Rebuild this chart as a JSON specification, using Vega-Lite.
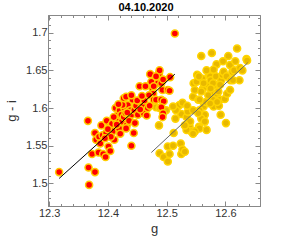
{
 "$schema": "https://vega.github.io/schema/vega-lite/v6.json",
 "width": 212, "height": 191,
 "autosize": "none",
 "padding": {"left": 48, "top": 15, "right": 28, "bottom": 34},
 "title": {"text": "04.10.2020", "fontSize": 11, "fontWeight": "bold", "font": "Liberation Sans", "color": "#000", "offset": -1, "dx": -8},
 "config": {
  "view": {"stroke": "#888", "strokeWidth": 1},
  "font": "Liberation Sans",
  "axis": {"grid": false, "domainColor": "#888", "tickColor": "#888", "labelColor": "#333", "titleColor": "#333", "labelFontSize": 11, "titleFontSize": 13, "titleFontWeight": "normal", "labelFont": "Liberation Sans", "titleFont": "Liberation Sans"}
 },
 "datasets": {
  "red": [
   {"g":12.317,"gi":1.515},{"g":12.368,"gi":1.498},{"g":12.367,"gi":1.521},{"g":12.378,"gi":1.515},{"g":12.366,"gi":1.583},
   {"g":12.373,"gi":1.539},{"g":12.378,"gi":1.567},{"g":12.380,"gi":1.558},{"g":12.384,"gi":1.541},{"g":12.392,"gi":1.539},
   {"g":12.396,"gi":1.535},{"g":12.389,"gi":1.577},{"g":12.385,"gi":1.562},{"g":12.391,"gi":1.564},{"g":12.397,"gi":1.567},
   {"g":12.398,"gi":1.583},{"g":12.401,"gi":1.549},{"g":12.404,"gi":1.543},{"g":12.403,"gi":1.575},{"g":12.407,"gi":1.579},
   {"g":12.408,"gi":1.569},{"g":12.411,"gi":1.558},{"g":12.405,"gi":1.562},{"g":12.414,"gi":1.584},{"g":12.417,"gi":1.591},
   {"g":12.413,"gi":1.600},{"g":12.420,"gi":1.597},{"g":12.423,"gi":1.591},{"g":12.419,"gi":1.573},{"g":12.421,"gi":1.566},
   {"g":12.424,"gi":1.582},{"g":12.427,"gi":1.588},{"g":12.428,"gi":1.600},{"g":12.427,"gi":1.613},{"g":12.431,"gi":1.615},
   {"g":12.430,"gi":1.593},{"g":12.434,"gi":1.604},{"g":12.436,"gi":1.585},{"g":12.438,"gi":1.597},{"g":12.440,"gi":1.591},
   {"g":12.432,"gi":1.577},{"g":12.431,"gi":1.573},{"g":12.436,"gi":1.583},{"g":12.440,"gi":1.550},{"g":12.442,"gi":1.611},
   {"g":12.445,"gi":1.597},{"g":12.444,"gi":1.567},{"g":12.448,"gi":1.603},{"g":12.451,"gi":1.591},{"g":12.454,"gi":1.629},
   {"g":12.457,"gi":1.606},{"g":12.460,"gi":1.603},{"g":12.461,"gi":1.593},{"g":12.464,"gi":1.629},{"g":12.468,"gi":1.600},
   {"g":12.471,"gi":1.603},{"g":12.472,"gi":1.645},{"g":12.474,"gi":1.635},{"g":12.476,"gi":1.626},{"g":12.477,"gi":1.619},
   {"g":12.470,"gi":1.617},{"g":12.478,"gi":1.611},{"g":12.482,"gi":1.611},{"g":12.485,"gi":1.633},{"g":12.487,"gi":1.646},
   {"g":12.488,"gi":1.650},{"g":12.491,"gi":1.633},{"g":12.494,"gi":1.638},{"g":12.493,"gi":1.624},{"g":12.491,"gi":1.611},
   {"g":12.495,"gi":1.609},{"g":12.491,"gi":1.601},{"g":12.494,"gi":1.593},{"g":12.493,"gi":1.588},{"g":12.502,"gi":1.624},
   {"g":12.505,"gi":1.623},{"g":12.506,"gi":1.641},{"g":12.514,"gi":1.699},{"g":12.478,"gi":1.629},{"g":12.482,"gi":1.642},
   {"g":12.410,"gi":1.588},{"g":12.415,"gi":1.578},{"g":12.425,"gi":1.604},{"g":12.433,"gi":1.594},{"g":12.446,"gi":1.580},
   {"g":12.450,"gi":1.610},{"g":12.455,"gi":1.598},{"g":12.462,"gi":1.610},{"g":12.400,"gi":1.572},{"g":12.387,"gi":1.553},
   {"g":12.395,"gi":1.560},{"g":12.418,"gi":1.605},{"g":12.440,"gi":1.617},{"g":12.458,"gi":1.616},{"g":12.466,"gi":1.590}
  ],
  "yellow": [
   {"g":12.487,"gi":1.577},{"g":12.488,"gi":1.540},{"g":12.495,"gi":1.535},{"g":12.502,"gi":1.529},{"g":12.505,"gi":1.539},
   {"g":12.502,"gi":1.549},{"g":12.511,"gi":1.550},{"g":12.512,"gi":1.567},{"g":12.515,"gi":1.586},{"g":12.519,"gi":1.602},
   {"g":12.522,"gi":1.604},{"g":12.525,"gi":1.592},{"g":12.527,"gi":1.607},{"g":12.524,"gi":1.553},{"g":12.525,"gi":1.539},
   {"g":12.527,"gi":1.545},{"g":12.531,"gi":1.542},{"g":12.534,"gi":1.588},{"g":12.536,"gi":1.595},{"g":12.539,"gi":1.576},
   {"g":12.542,"gi":1.569},{"g":12.545,"gi":1.615},{"g":12.546,"gi":1.633},{"g":12.548,"gi":1.624},{"g":12.551,"gi":1.635},
   {"g":12.552,"gi":1.644},{"g":12.554,"gi":1.611},{"g":12.555,"gi":1.575},{"g":12.556,"gi":1.573},{"g":12.559,"gi":1.669},
   {"g":12.561,"gi":1.639},{"g":12.562,"gi":1.626},{"g":12.563,"gi":1.602},{"g":12.565,"gi":1.591},{"g":12.567,"gi":1.608},
   {"g":12.568,"gi":1.571},{"g":12.571,"gi":1.631},{"g":12.572,"gi":1.644},{"g":12.574,"gi":1.642},{"g":12.575,"gi":1.637},
   {"g":12.577,"gi":1.673},{"g":12.578,"gi":1.619},{"g":12.579,"gi":1.611},{"g":12.580,"gi":1.602},{"g":12.582,"gi":1.631},
   {"g":12.584,"gi":1.642},{"g":12.585,"gi":1.658},{"g":12.586,"gi":1.619},{"g":12.588,"gi":1.622},{"g":12.589,"gi":1.603},
   {"g":12.591,"gi":1.611},{"g":12.592,"gi":1.591},{"g":12.593,"gi":1.637},{"g":12.595,"gi":1.644},{"g":12.597,"gi":1.648},
   {"g":12.599,"gi":1.612},{"g":12.601,"gi":1.580},{"g":12.602,"gi":1.642},{"g":12.603,"gi":1.619},{"g":12.605,"gi":1.669},
   {"g":12.608,"gi":1.657},{"g":12.609,"gi":1.637},{"g":12.612,"gi":1.648},{"g":12.615,"gi":1.650},{"g":12.617,"gi":1.662},
   {"g":12.620,"gi":1.679},{"g":12.624,"gi":1.637},{"g":12.625,"gi":1.653},{"g":12.629,"gi":1.650},{"g":12.636,"gi":1.665},
   {"g":12.637,"gi":1.663},{"g":12.556,"gi":1.597},{"g":12.559,"gi":1.586},{"g":12.565,"gi":1.582},{"g":12.540,"gi":1.582},
   {"g":12.548,"gi":1.569},{"g":12.555,"gi":1.642},{"g":12.568,"gi":1.650},{"g":12.579,"gi":1.633},{"g":12.591,"gi":1.631},
   {"g":12.586,"gi":1.608},{"g":12.534,"gi":1.571},{"g":12.531,"gi":1.577},{"g":12.516,"gi":1.597},{"g":12.545,"gi":1.597},
   {"g":12.545,"gi":1.566},{"g":12.535,"gi":1.603},{"g":12.556,"gi":1.611},{"g":12.580,"gi":1.651},{"g":12.596,"gi":1.662},
   {"g":12.613,"gi":1.637},{"g":12.608,"gi":1.624},{"g":12.554,"gi":1.593},{"g":12.575,"gi":1.626},{"g":12.574,"gi":1.606},
   {"g":12.482,"gi":1.601},{"g":12.488,"gi":1.600},{"g":12.499,"gi":1.597},{"g":12.511,"gi":1.602},{"g":12.559,"gi":1.622},
   {"g":12.571,"gi":1.617},{"g":12.563,"gi":1.633}
  ],
  "fits": [
   {"set":"red","g":12.317,"gi":1.5066},{"set":"red","g":12.514,"gi":1.645},
   {"set":"yellow","g":12.474,"gi":1.541},{"set":"yellow","g":12.638,"gi":1.660}
  ]
 },
 "layer": [
  {
   "data": {"name": "yellow"},
   "mark": {"type": "point", "shape": "circle", "filled": true, "fill": "#e8b800", "stroke": "#ffd400", "strokeWidth": 1.5, "size": 50, "opacity": 1},
   "encoding": {
    "x": {"field": "g", "type": "quantitative", "title": "g",
     "scale": {"domain": [12.298, 12.659], "nice": false, "zero": false},
     "axis": {"orient": "bottom", "values": [12.3,12.32,12.34,12.36,12.38,12.4,12.42,12.44,12.46,12.48,12.5,12.52,12.54,12.56,12.58,12.6,12.62,12.64],
      "labelExpr": "abs(datum.value*10 - round(datum.value*10)) < 0.001 ? format(datum.value, '.1f') : ''",
      "tickSize": {"condition": {"test": "abs(datum.value*10 - round(datum.value*10)) < 0.001", "value": -5}, "value": -2.5},
      "labelPadding": 6, "titlePadding": 2, "labelFlush": false, "labelOverlap": false}},
    "y": {"field": "gi", "type": "quantitative", "title": "g - i",
     "scale": {"domain": [1.47, 1.7235], "nice": false, "zero": false},
     "axis": {"orient": "left", "values": [1.47,1.48,1.49,1.5,1.51,1.52,1.53,1.54,1.55,1.56,1.57,1.58,1.59,1.6,1.61,1.62,1.63,1.64,1.65,1.66,1.67,1.68,1.69,1.7,1.71,1.72],
      "labelExpr": "abs(datum.value*20 - round(datum.value*20)) < 0.001 ? format(datum.value, '~g') : ''",
      "tickSize": {"condition": {"test": "abs(datum.value*20 - round(datum.value*20)) < 0.001", "value": -5}, "value": -2.5},
      "labelPadding": 6, "titlePadding": 7, "labelFlush": false, "labelOverlap": false}}
   }
  },
  {
   "data": {"name": "red"},
   "mark": {"type": "point", "shape": "circle", "filled": true, "fill": "#ff0000", "stroke": "#ffcc00", "strokeWidth": 1.5, "size": 50, "opacity": 1},
   "encoding": {
    "x": {"field": "g", "type": "quantitative", "axis": null},
    "y": {"field": "gi", "type": "quantitative", "axis": null}
   }
  },
  {
   "data": {"name": "fits"},
   "mark": {"type": "line", "strokeWidth": 1},
   "encoding": {
    "x": {"field": "g", "type": "quantitative", "title": null,
     "axis": {"orient": "top", "values": [12.3,12.32,12.34,12.36,12.38,12.4,12.42,12.44,12.46,12.48,12.5,12.52,12.54,12.56,12.58,12.6,12.62,12.64],
      "labels": false,
      "tickSize": {"condition": {"test": "abs(datum.value*10 - round(datum.value*10)) < 0.001", "value": -5}, "value": -2.5}}},
    "y": {"field": "gi", "type": "quantitative", "title": null,
     "axis": {"orient": "right", "values": [1.47,1.48,1.49,1.5,1.51,1.52,1.53,1.54,1.55,1.56,1.57,1.58,1.59,1.6,1.61,1.62,1.63,1.64,1.65,1.66,1.67,1.68,1.69,1.7,1.71,1.72],
      "labels": false,
      "tickSize": {"condition": {"test": "abs(datum.value*20 - round(datum.value*20)) < 0.001", "value": -5}, "value": -2.5}}},
    "detail": {"field": "set", "type": "nominal"},
    "color": {"field": "set", "type": "nominal", "scale": {"domain": ["red", "yellow"], "range": ["#000000", "#666666"]}, "legend": null}
   }
  }
 ],
 "resolve": {"axis": {"x": "independent", "y": "independent"}}
}
